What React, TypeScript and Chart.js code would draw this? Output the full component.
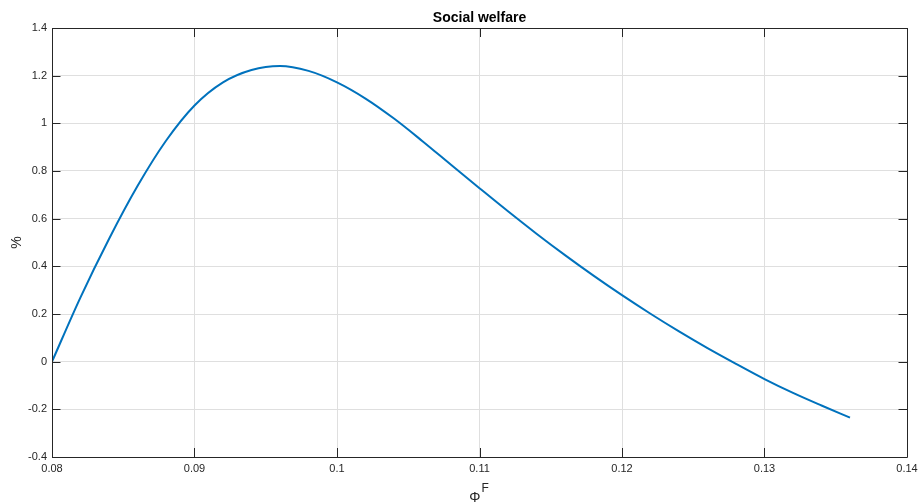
import React, { useEffect, useRef } from "react";
import { Chart, registerables } from "chart.js";

Chart.register(...registerables);

const chartTitle = "Social welfare";
const phiF = [
  0.08, 0.082, 0.084, 0.086, 0.088, 0.09, 0.092, 0.094, 0.096, 0.098, 0.1,
  0.102, 0.104, 0.106, 0.108, 0.11, 0.112, 0.114, 0.116, 0.118, 0.12, 0.122,
  0.124, 0.126, 0.128, 0.13, 0.132, 0.134, 0.136,
];
const welfare = [
  0.0, 0.27, 0.515, 0.737, 0.927, 1.075, 1.172, 1.224, 1.241, 1.22, 1.172,
  1.104, 1.02, 0.925, 0.826, 0.728, 0.631, 0.537, 0.447, 0.361, 0.279, 0.201,
  0.127, 0.057, -0.009, -0.073, -0.131, -0.184, -0.235,
];
const xMin = 0.08, xMax = 0.14, xStep = 0.01;
const yMin = -0.4, yMax = 1.4, yStep = 0.2;

const FONT = "Arial, 'Liberation Sans', Helvetica, sans-serif";
const AXIS = "#262626";

const framePlugin = {
  id: "matlabFrame",
  afterDraw(chart: any) {
    const ctx = chart.ctx;
    const { left, right, top, bottom } = chart.chartArea;
    const xs = chart.scales.x;
    const ys = chart.scales.y;
    ctx.save();
    ctx.strokeStyle = AXIS;
    ctx.lineWidth = 1;
    ctx.beginPath();
    ctx.rect(Math.round(left) + 0.5, Math.round(top) + 0.5, Math.round(right - left), Math.round(bottom - top));
    ctx.stroke();
    const tl = 9;
    ctx.beginPath();
    xs.ticks.forEach((t: any) => {
      const px = Math.round(xs.getPixelForValue(t.value)) + 0.5;
      ctx.moveTo(px, bottom);
      ctx.lineTo(px, bottom - tl);
      ctx.moveTo(px, top);
      ctx.lineTo(px, top + tl);
    });
    ys.ticks.forEach((t: any) => {
      const py = Math.round(ys.getPixelForValue(t.value)) + 0.5;
      ctx.moveTo(left, py);
      ctx.lineTo(left + 8.5, py);
      ctx.moveTo(right, py);
      ctx.lineTo(right - 8.5, py);
    });
    ctx.stroke();

    // title
    const cx = (left + right) / 2;
    ctx.fillStyle = "#000";
    ctx.font = `bold 14px ${FONT}`;
    ctx.textAlign = "center";
    ctx.textBaseline = "alphabetic";
    ctx.fillText(chartTitle, cx, 21.5);

    // x axis title: Phi^F
    ctx.fillStyle = AXIS;
    ctx.font = `14px ${FONT}`;
    ctx.textAlign = "left";
    const phiW = ctx.measureText("\u03A6").width;
    ctx.font = `12px ${FONT}`;
    const fW = ctx.measureText("F").width;
    const startX = cx - (phiW + fW) / 2 - 1;
    ctx.font = `14px ${FONT}`;
    ctx.fillText("\u03A6", startX, 502);
    ctx.font = `12px ${FONT}`;
    ctx.fillText("F", startX + phiW + 1, 492);

    // y axis title
    ctx.save();
    ctx.translate(21, (top + bottom) / 2);
    ctx.rotate(-Math.PI / 2);
    ctx.font = `14px ${FONT}`;
    ctx.textAlign = "center";
    ctx.textBaseline = "alphabetic";
    ctx.fillText("%", 0, 0);
    ctx.restore();
    ctx.restore();
  },
};

export default function App() {
  const ref = useRef<HTMLCanvasElement | null>(null);
  useEffect(() => {
    if (!ref.current) return;
    const chart = new Chart(ref.current, {
      type: "line",
      data: {
        datasets: [
          {
            data: phiF.map((x, i) => ({ x, y: welfare[i] })),
            borderColor: "#0072BD",
            borderWidth: 2,
            pointRadius: 0,
            cubicInterpolationMode: "monotone",
            fill: false,
          },
        ],
      },
      options: {
        animation: false,
        responsive: false,
        maintainAspectRatio: false,
        devicePixelRatio: 1,
        layout: { padding: { top: 28, right: 16, left: 0, bottom: 0 } },
        plugins: { legend: { display: false }, title: { display: false }, tooltip: { enabled: false } },
        scales: {
          x: {
            type: "linear",
            min: xMin,
            max: xMax,
            afterFit: (s: any) => { s.height = 47; },
            border: { display: false },
            grid: { color: "#dfdfdf", drawTicks: false, lineWidth: 1 },
            ticks: {
              stepSize: xStep,
              padding: 5,
              color: AXIS,
              font: { family: FONT, size: 11 },
              maxRotation: 0,
              callback: (v: any) => String(Number(Number(v).toFixed(2))),
            },
          },
          y: {
            type: "linear",
            min: yMin,
            max: yMax,
            afterFit: (s: any) => { s.width = 52; },
            border: { display: false },
            grid: { color: "#dfdfdf", drawTicks: false, lineWidth: 1 },
            ticks: {
              stepSize: yStep,
              padding: 5,
              color: AXIS,
              font: { family: FONT, size: 11 },
              callback: (v: any) => String(Number(Number(v).toFixed(1))),
            },
          },
        },
      },
      plugins: [framePlugin],
    } as any);
    return () => chart.destroy();
  }, []);
  return (
    <div style={{ position: "fixed", left: 0, top: 0, width: 923, height: 504, background: "#fff" }}>
      <canvas ref={ref} width={923} height={504} style={{ width: 923, height: 504 }} />
    </div>
  );
}
